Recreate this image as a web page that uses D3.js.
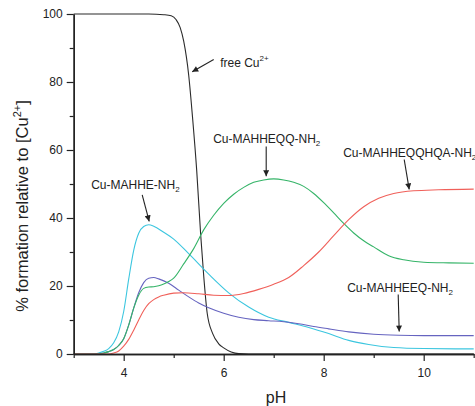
<!DOCTYPE html>
<html>
<head>
<meta charset="utf-8">
<script src="https://cdn.jsdelivr.net/npm/d3@7"></script>
<style>
  body { margin: 0; background: #fff; }
  svg { display: block; font-family: "Liberation Sans", Arial, sans-serif; }
</style>
</head>
<body>
<div id="display"></div>
<script>
// data
let freeCuPH = [3, 4.5, 4.8, 4.95, 5.05, 5.13, 5.2, 5.3, 5.38, 5.46, 5.54, 5.6, 5.67, 5.78, 5.9, 6.0, 6.15, 6.3, 6.5, 11];
let freeCuVal = [100, 100, 99.8, 99.5, 98.3, 96, 92, 82, 69, 54, 35, 23, 12, 6, 3, 1.8, 0.6, 0.1, 0, 0];

let mahhePH = [3, 3.4, 3.5, 3.6, 3.7, 3.8, 3.9, 4.0, 4.1, 4.2, 4.3, 4.4, 4.5, 4.6, 4.8, 5.0, 5.3, 5.7, 6.1, 6.5, 6.9, 7.3, 7.7, 8.1, 8.5, 8.9, 9.4, 10, 11];
let mahheVal = [0, 0, 0.3, 0.8, 1.6, 3.3, 6.5, 12.5, 22, 30.5, 35.5, 37.5, 38, 37.6, 35.8, 33.8, 29.5, 23.5, 18, 13.8, 10.8, 9.3, 7.8, 6.0, 4.0, 2.8, 1.9, 1.6, 1.5];

let mahheeqPH = [3, 3.5, 3.6, 3.7, 3.8, 3.9, 4.0, 4.1, 4.2, 4.3, 4.4, 4.5, 4.6, 4.7, 4.9, 5.1, 5.3, 5.5, 5.7, 6.0, 6.3, 6.6, 6.9, 7.2, 7.5, 7.8, 8.1, 8.5, 9.0, 9.5, 10, 11];
let mahheeqVal = [0, 0, 0.3, 0.7, 1.3, 2.5, 4.5, 8.5, 13.5, 18, 21, 22.3, 22.5, 22.1, 20.8, 18.8, 16.8, 15, 13.6, 12, 10.8, 10.1, 9.8, 9.5, 8.9, 8.1, 7.4, 6.5, 5.8, 5.5, 5.4, 5.4];

let mahheqqPH = [3, 3.5, 3.6, 3.7, 3.8, 3.9, 4.0, 4.1, 4.2, 4.3, 4.4, 4.5, 4.6, 4.7, 4.8, 4.9, 5.0, 5.2, 5.4, 5.6, 5.8, 6.0, 6.2, 6.4, 6.6, 6.8, 7.0, 7.2, 7.4, 7.6, 7.8, 8.0, 8.2, 8.4, 8.6, 8.8, 9.0, 9.3, 9.6, 10, 10.5, 11];
let mahheqqVal = [0, 0, 0.3, 0.7, 1.3, 2.5, 4.5, 8.5, 13.5, 17.3, 19.3, 19.7, 19.8, 20.1, 20.6, 21.3, 22.3, 26.5, 31, 36.5, 40.8, 44.3, 47, 49, 50.5, 51.2, 51.5, 51.2, 50.5, 49.3, 47.2, 44.5, 41.5, 38.4, 35.6, 33.3, 31.5, 28.9, 27.7, 27, 26.8, 26.7];

let mahheqqhqaPH = [3, 3.7, 3.8, 3.9, 4.0, 4.1, 4.2, 4.3, 4.4, 4.5, 4.6, 4.7, 4.8, 5.0, 5.2, 5.5, 5.8, 6.1, 6.4, 6.7, 7.0, 7.3, 7.6, 7.9, 8.2, 8.5, 8.8, 9.1, 9.4, 9.8, 10.3, 11];
let mahheqqhqaVal = [0, 0, 0.3, 0.9, 2.3, 4.3, 7, 10, 12.8, 14.8, 16, 16.8, 17.3, 17.9, 18, 17.7, 17.3, 17.2, 17.8, 19, 20.5, 22.5, 26, 30, 34.8, 39.5, 43.3, 45.8, 47.2, 48, 48.3, 48.5];

let xMajor = [4, 6, 8, 10];
let xMinor = [3, 5, 7, 9, 11];
let yMajor = [0, 20, 40, 60, 80, 100];
let yMinor = [10, 30, 50, 70, 90];

let series = [
    {ph: freeCuPH, val: freeCuVal, color: '#2b2b2b'},
    {ph: mahhePH, val: mahheVal, color: '#3cc6df'},
    {ph: mahheeqPH, val: mahheeqVal, color: '#6664c0'},
    {ph: mahheqqPH, val: mahheqqVal, color: '#35b468'},
    {ph: mahheqqhqaPH, val: mahheqqhqaVal, color: '#f0605a'}
];

// labels: text start and arrow tail/tip, all in data units
let notes = [
    {text: 'free Cu', sup: '2+', tx: 5.93, ty: 84.4, x1: 5.8, y1: 86.6, x2: 5.37, y2: 83.0},
    {text: 'Cu-MAHHEQQ-NH', sub: '2', tx: 5.79, ty: 62.1, x1: 6.85, y1: 61.0, x2: 6.85, y2: 52.3},
    {text: 'Cu-MAHHEQQHQA-NH', sub: '2', tx: 8.39, ty: 57.9, x1: 9.61, y1: 57.2, x2: 9.71, y2: 48.4},
    {text: 'Cu-MAHHE-NH', sub: '2', tx: 3.35, ty: 48.5, x1: 4.37, y1: 46.8, x2: 4.51, y2: 39.0},
    {text: 'Cu-MAHHEEQ-NH', sub: '2', tx: 8.47, ty: 18.2, x1: 9.49, y1: 17.5, x2: 9.51, y2: 6.6}
];

let W = 475, H = 406;
let svg = d3.select('#display')
    .append('svg')
        .attr('width', W)
        .attr('height', H);

// scales
let x = d3.scaleLinear().domain([3, 11]).range([73.7, 473.7]);
let y = d3.scaleLinear().domain([0, 100]).range([354, 14]);

// arrow head
svg.append('defs').append('marker')
    .attr('id', 'head')
    .attr('viewBox', '0 0 10 10')
    .attr('refX', 10).attr('refY', 5)
    .attr('markerWidth', 9).attr('markerHeight', 6)
    .attr('markerUnits', 'userSpaceOnUse')
    .attr('orient', 'auto')
    .append('path')
        .attr('d', 'M0,0 L10,5 L0,10 Z')
        .attr('fill', '#222');

// curves
let line = d3.line()
    .x(d => x(d[0]))
    .y(d => y(d[1]))
    .curve(d3.curveMonotoneX);

svg.selectAll('.curve')
    .data(series)
    .enter()
    .append('path')
        .attr('class', 'curve')
        .attr('d', s => line(d3.zip(s.ph, s.val)))
        .attr('fill', 'none')
        .attr('stroke', s => s.color)
        .attr('stroke-width', 1.1);

// X axis
svg.append('g')
    .attr('transform', 'translate(0,' + y(0) + ')')
    .call(d3.axisBottom(x).tickValues(xMinor).tickSize(4).tickSizeOuter(0).tickFormat(''));
svg.append('g')
    .attr('transform', 'translate(0,' + y(0) + ')')
    .call(d3.axisBottom(x).tickValues(xMajor).tickSize(7).tickSizeOuter(0).tickPadding(7).tickFormat(d3.format('d')));

// Y axis
svg.append('g')
    .attr('transform', 'translate(' + x(3) + ',0)')
    .call(d3.axisLeft(y).tickValues(yMinor).tickSize(4).tickSizeOuter(0).tickFormat(''));
svg.append('g')
    .attr('transform', 'translate(' + x(3) + ',0)')
    .call(d3.axisLeft(y).tickValues(yMajor).tickSize(7).tickSizeOuter(0).tickPadding(4).tickFormat(d3.format('d')));

svg.selectAll('.domain').attr('stroke', '#222').attr('stroke-width', 1.4);
svg.selectAll('.tick line').attr('stroke', '#222').attr('stroke-width', 1.2);
svg.selectAll('.tick text')
    .attr('font-size', 12)
    .attr('font-family', '"Liberation Sans", Arial, sans-serif')
    .attr('fill', '#222');

// axis titles
svg.append('text')
    .attr('x', 276).attr('y', 403)
    .attr('text-anchor', 'middle')
    .attr('font-size', 16)
    .attr('fill', '#222')
    .text('pH');

let yt = svg.append('text')
    .attr('transform', 'translate(28,206) rotate(-90)')
    .attr('text-anchor', 'middle')
    .attr('font-size', 16.5)
    .attr('fill', '#222');
yt.append('tspan').text('% formation relative to [Cu');
yt.append('tspan').attr('font-size', 11).attr('dy', -7).text('2+');
yt.append('tspan').attr('dy', 7).text(']');

// annotations
notes.forEach(n => {
    let t = svg.append('text')
        .attr('x', x(n.tx)).attr('y', y(n.ty))
        .attr('font-size', 12)
        .attr('fill', '#222');
    t.append('tspan').text(n.text);
    if (n.sup) t.append('tspan').attr('font-size', 8).attr('dy', -6).text(n.sup);
    if (n.sub) t.append('tspan').attr('font-size', 8).attr('dy', 3).text(n.sub);

    svg.append('line')
        .attr('x1', x(n.x1)).attr('y1', y(n.y1))
        .attr('x2', x(n.x2)).attr('y2', y(n.y2))
        .attr('stroke', '#222')
        .attr('stroke-width', 1.1)
        .attr('marker-end', 'url(#head)');
});
</script>
</body>
</html>
